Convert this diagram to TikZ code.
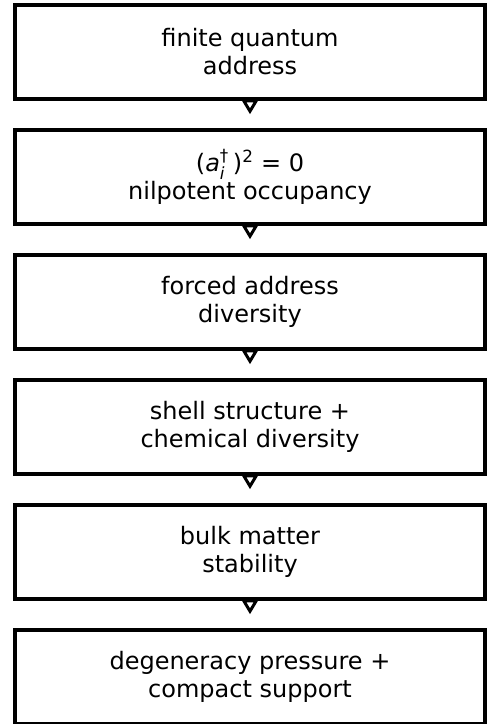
\documentclass[tikz,border=0pt]{standalone}
\usepackage{amsmath}
\usepackage{fontspec}
\setmainfont{DejaVu Sans}
\usetikzlibrary{arrows.meta}

\tikzset{
	box/.style={draw, line width=3.5pt, minimum width=470pt, minimum height=94pt,
		align=center, inner sep=0pt, font=\fontsize{24}{28}\selectfont},
	flow/.style={line width=3pt, -{Triangle[open, length=15pt, width=17pt, line width=3pt]}, shorten >=14pt}
}

\begin{document}
\begin{tikzpicture}[x=1pt, y=1pt]
		\useasboundingbox (0,0) rectangle (488,-724);
		
		\node[box] (address) at (250,-52) {finite quantum\\address};
		\node[box] (nilpot) at (250,-177) {(\textit{a}$_{\text{\itshape i}}^{\text{†}}$\,)$^{\text{2}}$ = 0\\nilpotent occupancy};
		\node[box] (diverse) at (250,-302) {forced address\\diversity};
		\node[box] (shell) at (250,-427) {shell structure +\\chemical diversity};
		\node[box] (bulk) at (250,-552) {bulk matter\\stability};
		\node[box] (degen) at (250,-677) {degeneracy pressure +\\compact support};
		
		\foreach \a/\b in {address/nilpot, nilpot/diverse, diverse/shell, shell/bulk, bulk/degen}
			\draw[flow] (\a.south) -- (\b.north);
	\end{tikzpicture}
\end{document}
